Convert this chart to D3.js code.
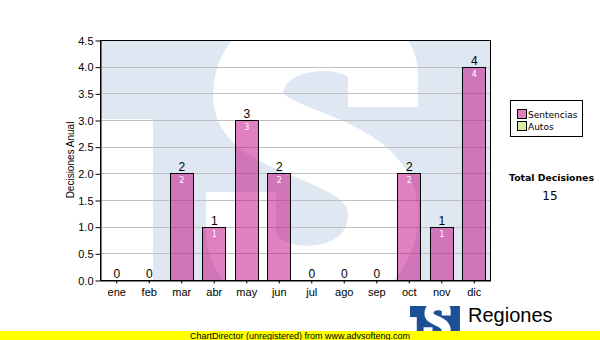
<!DOCTYPE html>
<html>
<head>
<meta charset="utf-8">
<script src="https://cdn.jsdelivr.net/npm/d3@7"></script>
<style>
  body { margin: 0; background: #fff; }
  svg { display: block; }
</style>
</head>
<body>
<svg id="chart" width="600" height="340"></svg>
<script>
// --- Data ---
const months = ['ene', 'feb', 'mar', 'abr', 'may', 'jun', 'jul', 'ago', 'sep', 'oct', 'nov', 'dic'];
const sentencias = [0, 0, 2, 1, 3, 2, 0, 0, 0, 2, 1, 4];
const autos = [0, 0, 0, 0, 0, 0, 0, 0, 0, 0, 0, 0];
const yTicks = [0, 0.5, 1, 1.5, 2, 2.5, 3, 3.5, 4, 4.5];
const seriesNames = ['Sentencias', 'Autos'];
const seriesColors = ['#e080c0', '#d8eca0'];

const totals = months.map((m, i) => sentencias[i] + autos[i]);
const grandTotal = d3.sum(totals);

// --- Layout ---
const svg = d3.select('#chart');
const plot = { left: 100, top: 40, width: 390, height: 240 };
const sansFont = 'Liberation Sans, Arial, sans-serif';
const verdanaFont = 'DejaVu Sans, Verdana, sans-serif';

const x = d3.scaleBand().domain(months).range([plot.left, plot.left + plot.width])
  .paddingInner(0.3).paddingOuter(0.15);
const y = d3.scaleLinear().domain([0, 4.5]).range([plot.top + plot.height, plot.top]);

// --- TS logo shape (used as watermark and as bottom logo) ---
// coordinates in a 390x240 box
function drawLogo(g, fg, bg) {
  g.append('rect').attr('x', 0).attr('y', 0).attr('width', 390).attr('height', 240).attr('fill', fg);
  g.append('rect').attr('x', 0).attr('y', 79).attr('width', 53).attr('height', 161).attr('fill', bg);
  g.append('path')
    .attr('d', 'M283,67 L283,35 C283,-20 148,-20 148,55 C148,110 283,100 283,175 C283,260 141,260 141,190 L141,152')
    .attr('fill', 'none')
    .attr('stroke', bg)
    .attr('stroke-width', 70);
}

svg.append('clipPath').attr('id', 'plot-clip')
  .append('rect').attr('x', 0).attr('y', 0).attr('width', plot.width).attr('height', plot.height);

const wm = svg.append('g')
  .attr('transform', `translate(${plot.left},${plot.top})`)
  .attr('clip-path', 'url(#plot-clip)');
drawLogo(wm, '#dfe8f2', '#ffffff');

// --- Grid ---
svg.append('g')
  .selectAll('line')
  .data(yTicks)
  .enter().append('line')
  .attr('x1', plot.left).attr('x2', plot.left + plot.width)
  .attr('y1', d => Math.round(y(d)) + 0.5).attr('y2', d => Math.round(y(d)) + 0.5)
  .attr('stroke', '#c0c0c0')
  .attr('stroke-width', 1);

// --- Bars ---
const barData = months.map((m, i) => ({ m, v: sentencias[i], t: totals[i] }));

svg.append('g')
  .selectAll('rect')
  .data(barData.filter(d => d.v > 0))
  .enter().append('rect')
  .attr('x', d => Math.round(x(d.m)) + 0.5)
  .attr('y', d => Math.round(y(d.v)) + 0.5)
  .attr('width', Math.round(x.bandwidth()))
  .attr('height', d => Math.round(y(0)) - Math.round(y(d.v)))
  .attr('fill', '#c10181')
  .attr('fill-opacity', 0.5)
  .attr('stroke', '#000')
  .attr('stroke-width', 1);

// labels inside bars
svg.append('g')
  .selectAll('text')
  .data(barData.filter(d => d.v > 0))
  .enter().append('text')
  .attr('x', d => x(d.m) + x.bandwidth() / 2 + 0.5)
  .attr('y', d => y(d.v) + 10)
  .attr('text-anchor', 'middle')
  .attr('font-family', verdanaFont)
  .attr('font-size', 8)
  .attr('fill', '#fff')
  .text(d => d.v);

// totals above bars
svg.append('g')
  .selectAll('text')
  .data(barData)
  .enter().append('text')
  .attr('x', d => x(d.m) + x.bandwidth() / 2 + 0.5)
  .attr('y', d => y(d.t) - 2)
  .attr('text-anchor', 'middle')
  .attr('font-family', sansFont)
  .attr('font-size', 12)
  .attr('fill', '#000')
  .text(d => d.t);

// --- Plot border ---
svg.append('rect')
  .attr('x', plot.left + 0.5).attr('y', plot.top + 0.5)
  .attr('width', plot.width).attr('height', plot.height)
  .attr('fill', 'none').attr('stroke', '#000').attr('stroke-width', 1);

// --- Axes ---
const yAxis = svg.append('g')
  .attr('transform', `translate(${plot.left + 0.5},0.5)`)
  .call(d3.axisLeft(y).tickValues(yTicks).tickFormat(d3.format('.1f')).tickSize(5).tickSizeOuter(0));
yAxis.select('.domain').attr('stroke', '#000');
yAxis.selectAll('text').attr('font-family', sansFont).attr('font-size', 11).attr('fill', '#000').attr('dx', '1');

const xAxis = svg.append('g')
  .attr('transform', `translate(0.5,${plot.top + plot.height + 0.5})`)
  .call(d3.axisBottom(x).tickSize(3).tickSizeOuter(0));
xAxis.select('.domain').attr('stroke', '#000');
xAxis.selectAll('text').attr('font-family', sansFont).attr('font-size', 11).attr('fill', '#000').attr('dy', '0.9em');

svg.append('text')
  .attr('transform', `translate(74,${plot.top + plot.height / 2}) rotate(-90)`)
  .attr('text-anchor', 'middle')
  .attr('font-family', sansFont)
  .attr('font-size', 10)
  .attr('fill', '#000')
  .text('Decisiones Anual');

// --- Legend ---
const legend = svg.append('g');
legend.append('rect')
  .attr('x', 510.5).attr('y', 100.5).attr('width', 72).attr('height', 36)
  .attr('fill', '#fff').attr('stroke', '#000');
seriesNames.forEach((name, i) => {
  legend.append('rect')
    .attr('x', 517.5).attr('y', 109.5 + i * 12).attr('width', 9).attr('height', 9)
    .attr('fill', seriesColors[i]).attr('stroke', '#000');
  legend.append('text')
    .attr('x', 528).attr('y', 117.5 + i * 12)
    .attr('font-family', verdanaFont).attr('font-size', 9).attr('fill', '#000')
    .text(name);
});

svg.append('text')
  .attr('x', 551.5).attr('y', 181)
  .attr('text-anchor', 'middle')
  .attr('font-family', verdanaFont).attr('font-size', 9.3).attr('font-weight', 'bold')
  .attr('fill', '#000')
  .text('Total Decisiones');

svg.append('text')
  .attr('x', 550).attr('y', 200)
  .attr('text-anchor', 'middle')
  .attr('font-family', verdanaFont).attr('font-size', 12)
  .attr('fill', '#000')
  .text(grandTotal);

// --- Bottom logo ---
const logo = svg.append('g').attr('transform', 'translate(410,306) scale(0.128,0.14)');
drawLogo(logo, '#1d4f95', '#ffffff');

svg.append('text')
  .attr('x', 468).attr('y', 322)
  .attr('font-family', sansFont).attr('font-size', 20).attr('fill', '#000')
  .text('Regiones');

svg.append('text')
  .attr('x', 468).attr('y', 337)
  .attr('font-family', sansFont).attr('font-size', 8).attr('fill', '#000')
  .text('Tribunal Supremo de Justicia');

// --- Unregistered banner ---
svg.append('rect')
  .attr('x', 0).attr('y', 331).attr('width', 600).attr('height', 9)
  .attr('fill', '#ffff00');
svg.append('text')
  .attr('x', 300).attr('y', 339)
  .attr('text-anchor', 'middle')
  .attr('font-family', sansFont).attr('font-size', 9).attr('fill', '#000')
  .text('ChartDirector (unregistered) from www.advsofteng.com');
</script>
</body>
</html>
